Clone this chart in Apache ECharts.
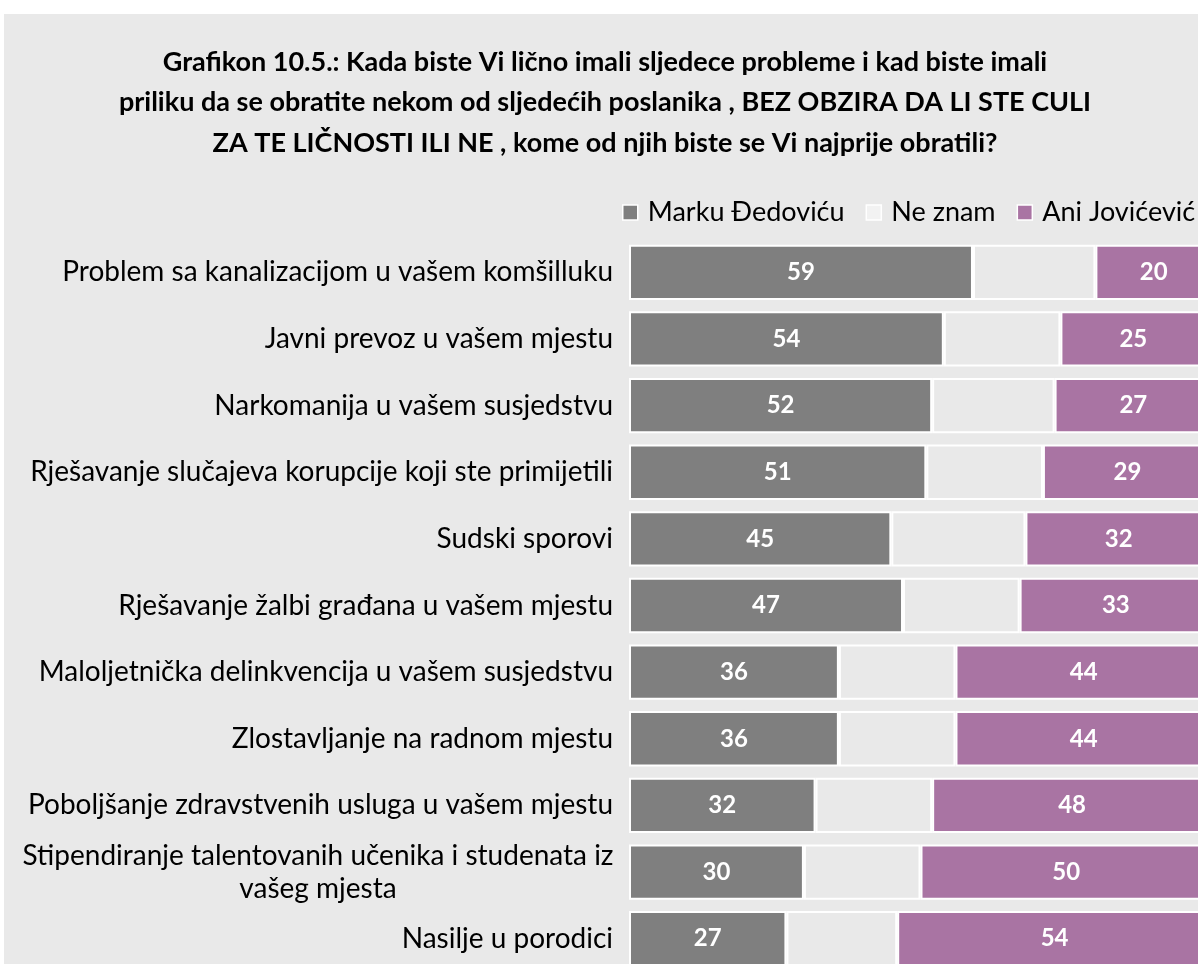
<!DOCTYPE html>
<html>
<head>
<meta charset="utf-8">
<script src="https://cdn.jsdelivr.net/npm/echarts@6/dist/echarts.min.js"></script>
<style>
html,body{margin:0;padding:0;background:#ffffff;overflow:hidden;width:1198px;height:964px;}
#c{position:absolute;left:4px;top:14px;width:1230px;height:980px;background:#e9e9e9;}
</style>
</head>
<body>
<div id="c"></div>
<script>
const categories = [
  'Problem sa kanalizacijom u vašem komšilluku',
  'Javni prevoz u vašem mjestu',
  'Narkomanija u vašem susjedstvu',
  'Rješavanje slučajeva korupcije koji ste primijetili',
  'Sudski sporovi',
  'Rješavanje žalbi građana u vašem mjestu',
  'Maloljetnička delinkvencija u vašem susjedstvu',
  'Zlostavljanje na radnom mjestu',
  'Poboljšanje zdravstvenih usluga u vašem mjestu',
  'Stipendiranje talentovanih učenika i studenata iz\nvašeg mjesta',
  'Nasilje u porodici'
];
const seriesNames = ['Marku Đedoviću', 'Ne znam', 'Ani Jovićević'];
const markuValues = [59, 54, 52, 51, 45, 47, 36, 36, 32, 30, 27];
const neZnamValues = [21, 20, 21, 20, 23, 20, 20, 20, 20, 20, 19];
const aniValues = [20, 25, 27, 29, 32, 33, 44, 44, 48, 50, 54];
const titleText = 'Grafikon 10.5.: Kada biste Vi lično imali sljedece probleme i kad biste imali\npriliku da se obratite nekom od sljedećih poslanika , BEZ OBZIRA DA LI STE CULI\nZA TE LIČNOSTI ILI NE , kome od njih biste se Vi najprije obratili?';

const FONT = 'Lato';
const chart = echarts.init(document.getElementById('c'));
const catData = categories.map(function (c) {
  if (c.indexOf('\n') >= 0) {
    return { value: c, textStyle: { align: 'center', padding: [0, 590, 0, 0] } };
  }
  return c;
});
const labelCfg = {
  show: true, position: 'inside', color: '#ffffff', fontFamily: FONT,
  fontWeight: 'bold', fontSize: 24
};
chart.setOption({
  backgroundColor: '#e9e9e9',
  animation: false,
  title: {
    text: titleText, left: 596, top: 23, textAlign: 'center',
    textStyle: { fontFamily: FONT, fontWeight: 'bold', fontSize: 27, lineHeight: 40.5, color: '#000000' }
  },
  legend: {
    data: [
      { name: seriesNames[0] },
      { name: seriesNames[1], itemStyle: { color: '#f2f2f2' } },
      { name: seriesNames[2] }
    ],
    left: 613, top: 180, itemWidth: 15, itemHeight: 15, itemGap: 21,
    icon: 'rect',
    itemStyle: { borderColor: '#ffffff', borderWidth: 1.5 },
    textStyle: { fontFamily: FONT, fontSize: 27, color: '#000000', padding: [0, 0, 0, 5] }
  },
  grid: { left: 625, right: 22, top: 225, bottom: 22, containLabel: false },
  xAxis: {
    type: 'value', min: 0, max: 100, show: false
  },
  yAxis: {
    type: 'category', data: catData, inverse: true,
    axisLine: { show: false }, axisTick: { show: false },
    axisLabel: { fontFamily: FONT, fontSize: 28, color: '#000000', margin: 16, lineHeight: 33 }
  },
  series: [
    { name: seriesNames[0], type: 'bar', stack: 's', data: markuValues, barCategoryGap: '17%',
      itemStyle: { color: '#7f7f7f', borderColor: '#ffffff', borderWidth: 2 }, label: labelCfg },
    { name: seriesNames[1], type: 'bar', stack: 's', data: neZnamValues,
      itemStyle: { color: '#e9e9e9', borderColor: '#ffffff', borderWidth: 2 }, label: { show: false } },
    { name: seriesNames[2], type: 'bar', stack: 's', data: aniValues,
      itemStyle: { color: '#a974a3', borderColor: '#ffffff', borderWidth: 2 }, label: labelCfg }
  ]
});
</script>
</body>
</html>
